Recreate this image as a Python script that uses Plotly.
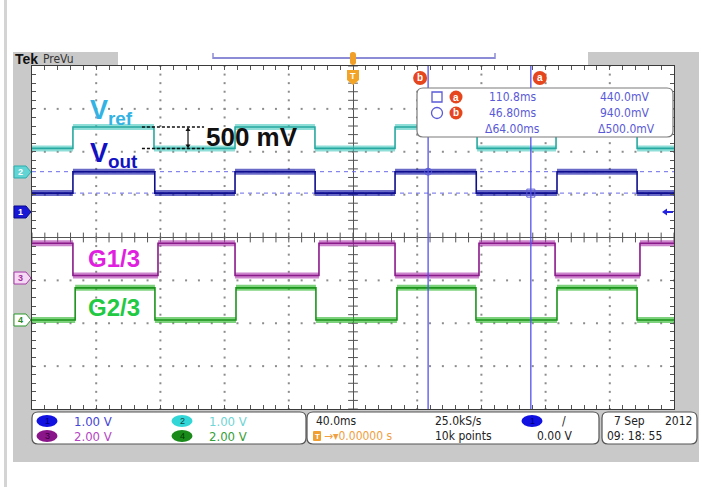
import numpy as np
import plotly.graph_objects as go

# ---------------- data ----------------
ms_per_div = 40.0
time_window_ms = [-200.0, 200.0]
screen_divs = [-4.0, 4.0]

ch_numbers = [1, 2, 3, 4]
ch_volts_per_div = [1.00, 1.00, 2.00, 2.00]
ch_ground_div = [0.595, 1.528, -0.945, -1.924]      # channel ground markers (divisions)
ch_scale_text = ["1.00 V", "1.00 V", "2.00 V", "2.00 V"]

# ch1 : Vout
vout_edges_ms = [-174.5, -123.5, -73.5, -23.6, 26.2, 76.8, 127.1, 177.0]
vout_levels_v = [0.44, 0.94]          # [low, high]
vout_starts_high = 0
# ch2 : Vref
vref_edges_ms = [-174.5, -124.0, -73.5, -23.7, 26.2, 77.3, 126.5, 177.0]
vref_levels_v = [0.55, 1.05]
vref_starts_high = 0
# ch3 : G1/3
g1_edges_ms = [-174.5, -121.5, -73.5, -21.2, 26.2, 78.5, 125.9, 178.8]
g1_levels_v = [0.12, 1.62]
g1_starts_high = 1
# ch4 : G2/3
g2_edges_ms = [-173.1, -123.4, -72.9, -23.1, 27.4, 76.6, 127.1, 177.0]
g2_levels_v = [0.00, 1.50]
g2_starts_high = 0

cursor_ids = ["a", "b"]
cursor_time_ms = [110.8, 46.80]
cursor_level_mv = [440.0, 940.0]

horizontal_scale_text = "40.0ms"
trigger_pos_text = "\u2192\u25BE0.00000 s"
sample_rate_text = "25.0kS/s"
record_length_text = "10k points"
trigger_level_text = "0.00 V"
date_text = "7 Sep"
year_text = "2012"
time_text = "09: 18: 55"
delta_label = "500 mV"

# ---------------- geometry helpers ----------------
W, H = 702, 487
PL, PR, PT, PB = 32, 674, 66, 409
FONT_N = "Liberation Sans Narrow, DejaVu Sans Condensed, Arial Narrow, Liberation Sans, sans-serif"
FONT_B = "Liberation Sans, Arial, sans-serif"


def PX(x):
    return (x - PL) / (PR - PL)


def PY(y):
    return (PB - y) / (PB - PT)


def XP(t):  # data time -> pixel
    return PL + (t - time_window_ms[0]) / (time_window_ms[1] - time_window_ms[0]) * (PR - PL)


def YP(d):  # divisions -> pixel
    return PB - (d - screen_divs[0]) / (screen_divs[1] - screen_divs[0]) * (PB - PT)


def to_div(v, ch):
    return ch_ground_div[ch] + v / ch_volts_per_div[ch]


def poly(points):
    return "M " + " L ".join(f"{PX(x):.5f},{PY(y):.5f}" for x, y in points) + " Z"


def rrect(x0, y0, x1, y1, r):
    return " ".join([
        f"M {PX(x0 + r):.5f},{PY(y0):.5f}", f"L {PX(x1 - r):.5f},{PY(y0):.5f}",
        f"Q {PX(x1):.5f},{PY(y0):.5f} {PX(x1):.5f},{PY(y0 + r):.5f}",
        f"L {PX(x1):.5f},{PY(y1 - r):.5f}",
        f"Q {PX(x1):.5f},{PY(y1):.5f} {PX(x1 - r):.5f},{PY(y1):.5f}",
        f"L {PX(x0 + r):.5f},{PY(y1):.5f}",
        f"Q {PX(x0):.5f},{PY(y1):.5f} {PX(x0):.5f},{PY(y1 - r):.5f}",
        f"L {PX(x0):.5f},{PY(y0 + r):.5f}",
        f"Q {PX(x0):.5f},{PY(y0):.5f} {PX(x0 + r):.5f},{PY(y0):.5f}", "Z"])


def step_xy(edges, levels, start_high, ch):
    bounds = [time_window_ms[0]] + list(edges) + [time_window_ms[1]]
    states = [(start_high + i) % 2 for i in range(len(bounds) - 1)]
    ys = [to_div(levels[s], ch) for s in states]
    bx, by = [], []
    for i in range(len(bounds) - 1):
        bx += [bounds[i], bounds[i + 1], None]
        by += [ys[i], ys[i], None]
    return bounds, ys + [ys[-1]], bx, by


fig = go.Figure()

# ---------------- graticule ----------------
gx, gy = [], []
for xv in np.arange(-160, 161, ms_per_div):
    if abs(xv) < 1e-9:
        continue
    for yv in np.arange(-4, 4.001, 0.2):
        gx.append(xv); gy.append(yv)
for yv in range(-3, 4):
    if yv == 0:
        continue
    for xv in np.arange(-200, 200.1, ms_per_div / 5):
        gx.append(xv); gy.append(yv)
fig.add_trace(go.Scatter(x=gx, y=gy, mode="markers", hoverinfo="skip",
                         marker=dict(symbol="square", size=2, color="#8c8c8c", line=dict(width=0))))
tx = list(np.arange(-200, 200.1, ms_per_div / 5))
fig.add_trace(go.Scatter(x=tx, y=[0] * len(tx), mode="markers", hoverinfo="skip",
                         marker=dict(symbol="line-ns", size=7, line=dict(width=1, color="#555"))))
ty = list(np.arange(-4, 4.001, 0.2))
fig.add_trace(go.Scatter(x=[0] * len(ty), y=ty, mode="markers", hoverinfo="skip",
                         marker=dict(symbol="line-ew", size=7, line=dict(width=1, color="#555"))))

# horizontal cursor levels (ch1)
for mv in cursor_level_mv:
    yl = to_div(mv / 1000.0, 0)
    fig.add_trace(go.Scatter(x=time_window_ms, y=[yl, yl], mode="lines", hoverinfo="skip",
                             line=dict(color="#6b6be6", width=1, dash="4px,4px")))

# ---------------- waveforms ----------------
waves = [
    (vref_edges_ms, vref_levels_v, vref_starts_high, 1, "#27a9a1", "rgba(70,200,190,0.6)"),
    (vout_edges_ms, vout_levels_v, vout_starts_high, 0, "#0e0e8e", "rgba(25,25,170,0.65)"),
    (g1_edges_ms, g1_levels_v, g1_starts_high, 2, "#8a1a8a", "rgba(170,50,170,0.6)"),
    (g2_edges_ms, g2_levels_v, g2_starts_high, 3, "#1b951b", "rgba(40,180,40,0.6)"),
]
for edges, lv, sh, ch, col, band in waves:
    sx, sy, bx, by = step_xy(edges, lv, sh, ch)
    fig.add_trace(go.Scatter(x=bx, y=by, mode="lines", hoverinfo="skip", connectgaps=False,
                             line=dict(color=band, width=6)))
    fig.add_trace(go.Scatter(x=sx, y=sy, mode="lines", line_shape="hv", hoverinfo="skip",
                             line=dict(color=col, width=1.6)))

# vertical time cursors
for t in cursor_time_ms:
    fig.add_trace(go.Scatter(x=[t, t], y=screen_divs, mode="lines", hoverinfo="skip",
                             line=dict(color="#5252ec", width=1.3)))
# cursor markers on the waveform
fig.add_trace(go.Scatter(x=[cursor_time_ms[0]], y=[to_div(cursor_level_mv[0] / 1000, 0)], mode="markers",
                         hoverinfo="skip", marker=dict(symbol="square-open", size=8, color="#5a5ad8")))
fig.add_trace(go.Scatter(x=[cursor_time_ms[1]], y=[to_div(cursor_level_mv[1] / 1000, 0)], mode="markers",
                         hoverinfo="skip", marker=dict(symbol="circle-open", size=7, color="#5a5ad8")))

# 500 mV dimension lines
vr_lo, vr_hi = to_div(vref_levels_v[0], 1), to_div(vref_levels_v[1], 1)
for yl in (vr_lo, vr_hi):
    fig.add_trace(go.Scatter(x=[-131.5, -92.8], y=[yl, yl], mode="lines", hoverinfo="skip",
                             line=dict(color="#111", width=1.5, dash="3px,2px")))

ann = []

# ---------------- chrome shapes ----------------
shapes = []


def rect(x0, y0, x1, y1, fill, line=None, lw=0, layer="below"):
    shapes.append(dict(type="rect", xref="paper", yref="paper", x0=PX(x0), x1=PX(x1), y0=PY(y1), y1=PY(y0),
                       fillcolor=fill, line=dict(color=line or fill, width=lw), layer=layer))


def path(p, fill, line=None, lw=0, layer="below"):
    shapes.append(dict(type="path", xref="paper", yref="paper", path=p, fillcolor=fill,
                       line=dict(color=line or fill, width=lw), layer=layer))


def ell(cx, cy, rx, ry, fill, line=None, lw=0, layer="below"):
    shapes.append(dict(type="circle", xref="paper", yref="paper", x0=PX(cx - rx), x1=PX(cx + rx),
                       y0=PY(cy + ry), y1=PY(cy - ry), fillcolor=fill,
                       line=dict(color=line or fill, width=lw), layer=layer))


def seg(x0, y0, x1, y1, color, w, layer="below"):
    shapes.append(dict(type="line", xref="paper", yref="paper", x0=PX(x0), x1=PX(x1), y0=PY(y0), y1=PY(y1),
                       line=dict(color=color, width=w), layer=layer))


def txt(x, y, s, color="#222", size=12, family=FONT_N, xanchor="left", bold=False):
    ann.append(dict(x=PX(x), y=PY(y), xref="paper", yref="paper", text=f"<b>{s}</b>" if bold else s,
                    showarrow=False, xanchor=xanchor, yanchor="middle",
                    font=dict(color=color, size=size, family=family)))


rect(4, 0, 7, H, "#d4d4d4")
rect(13, 52, 699, 462, "#c9c9c9")
rect(118, 52, 588, 66, "#ffffff")
rect(PL, PT, PR, PB, "#ffffff")

# double arrow of the 500 mV dimension
ax_px = XP(-102.8)
y_top, y_bot = YP(vr_hi), YP(vr_lo)
seg(ax_px, y_top + 2, ax_px, y_bot - 2, "#111", 1.2, layer="above")
path(poly([(ax_px, y_top), (ax_px - 2.5, y_top + 4), (ax_px + 2.5, y_top + 4)]), "#111", layer="above")
path(poly([(ax_px, y_bot), (ax_px - 2.5, y_bot - 4), (ax_px + 2.5, y_bot - 4)]), "#111", layer="above")

# record view bar
seg(213, 58, 495, 58, "#8c8cd6", 2)
seg(213, 53, 213, 59, "#8c8cd6", 1.5)
seg(495, 53, 495, 59, "#8c8cd6", 1.5)
path(rrect(350, 52, 356, 65, 2.5), "#f0a028", layer="above")
# trigger position marker
tp = XP(0)
path(poly([(tp - 6, 70), (tp + 6, 70), (tp + 6, 80), (tp, 85), (tp - 6, 80)]), "#f2a427", layer="above")
txt(tp, 76, "T", color="white", size=9, family=FONT_B, xanchor="center", bold=True)

# left channel markers
marker_style = [("#1717d4", "#0a0a90", "white"), ("#62d4d4", "#2aaeae", "white"),
                ("#f4d8f4", "#a83aa8", "#a030a0"), ("#ffffff", "#2a9a2a", "#2a8a2a")]
for i, n in enumerate(ch_numbers):
    yc = YP(ch_ground_div[i])
    fill, ln, tc = marker_style[i]
    path(poly([(14, yc - 6), (26, yc - 6), (31, yc), (26, yc + 6), (14, yc + 6)]), fill, ln, 1)
    txt(20.5, yc, str(n), color=tc, size=9, family=FONT_B, xanchor="center", bold=True)
# ch1 offset arrow at the right edge
yc1 = YP(ch_ground_div[0])
seg(666, yc1, 673, yc1, "#2323e0", 2, layer="above")
path(poly([(662, yc1), (667, yc1 - 3.5), (667, yc1 + 3.5)]), "#2323e0", layer="above")

# status boxes
path(rrect(32, 412, 306, 444, 6), "#ffffff", "#555555", 1.2)
path(rrect(307, 412, 599, 444, 6), "#ffffff", "#555555", 1.2)
path(rrect(602, 412, 697, 444, 6), "#ffffff", "#555555", 1.2)

pill = [("#1111e2", "#00007a", 47, 421), ("#33d6d6", "#114444", 182, 421),
        ("#8a158a", "#3a003a", 47, 436), ("#1a8a1a", "#003a00", 182, 436)]
scale_col = ["#4545d6", "#6fd5d5", "#b446c4", "#36a036"]
for i in range(4):
    fc, tc, cx, cy = pill[i]
    ell(cx, cy, 10.5, 6, fc)
    txt(cx, cy, str(ch_numbers[i]), color=tc, size=9, family=FONT_B, xanchor="center")
    txt(cx + 25, cy, ch_scale_text[i], color=scale_col[i], size=13)

txt(314, 421, horizontal_scale_text, size=12)
path(rrect(313, 431, 321, 441, 1), "#f0a030")
txt(317, 436, "T", color="white", size=8, family=FONT_B, xanchor="center", bold=True)
txt(322, 436, trigger_pos_text, color="#f0a040", size=12)
txt(433, 421, sample_rate_text, size=12)
txt(433, 436, record_length_text, size=12)
ell(532, 421, 10.5, 6, "#1111e2")
txt(532, 421, "1", color="#00007a", size=9, family=FONT_B, xanchor="center")
txt(560, 421, "/", size=12)
txt(574, 436, trigger_level_text, size=12, xanchor="right")
txt(612, 421, date_text, size=12)
txt(694, 421, year_text, size=12, xanchor="right")
txt(605, 436, time_text, size=12)

# header
txt(13, 59, "Tek", color="#111", size=14, family=FONT_B, bold=True)
txt(41, 59, "PreVu", color="#333", size=12, family=FONT_N)

# cursor readout box
path(rrect(417, 88, 673, 137, 6), "#ffffff", "#7a7a7a", 1.2, layer="above")
rc = "#5a5ad8"
shapes.append(dict(type="rect", xref="paper", yref="paper", x0=PX(432), x1=PX(442), y0=PY(102), y1=PY(92),
                   line=dict(color=rc, width=1.3), fillcolor="rgba(0,0,0,0)", layer="above"))
ell(437, 113, 5.5, 5.5, "rgba(0,0,0,0)", rc, 1.3, layer="above")
for lab, yy in zip(cursor_ids, (97, 113)):
    ell(456, yy, 6.5, 6.5, "#e6461e", layer="above")
    txt(456, yy, lab, color="white", size=10, family=FONT_B, xanchor="center", bold=True)
for i, yy in enumerate((97, 113)):
    txt(512, yy, f"{cursor_time_ms[i]:.4g}ms" if i == 0 else f"{cursor_time_ms[i]:.2f}ms",
        color=rc, size=12, xanchor="center")
    txt(624, yy, f"{cursor_level_mv[i]:.1f}mV", color=rc, size=12, xanchor="center")
txt(512, 129, f"\u0394{cursor_time_ms[0] - cursor_time_ms[1]:.2f}ms", color=rc, size=12, xanchor="center")
txt(626, 129, f"\u0394{cursor_level_mv[1] - cursor_level_mv[0]:.1f}mV", color=rc, size=12, xanchor="center")

# cursor id bubbles above the screen
for lab, t, off in zip(cursor_ids, cursor_time_ms, (9, -8)):
    ell(XP(t) + off, 78, 7, 7, "#e6461e", layer="above")
    txt(XP(t) + off, 78, lab, color="white", size=10, family=FONT_B, xanchor="center", bold=True)

# waveform labels
txt(88, 112, "V<sub>ref</sub>", color="#33b3e3", size=27, family=FONT_B, bold=True)
txt(88, 155, "V<sub>out</sub>", color="#1212c2", size=27, family=FONT_B, bold=True)
txt(204, 137, delta_label, color="#111", size=26, family=FONT_B, bold=True)
txt(86, 258, "G1/3", color="#e01fe0", size=24, family=FONT_B, bold=True)
txt(86, 307, "G2/3", color="#22c943", size=24, family=FONT_B, bold=True)

fig.update_layout(
    width=W, height=H, autosize=False,
    margin=dict(l=PL, r=W - PR, t=PT, b=H - PB, pad=0),
    paper_bgcolor="white", plot_bgcolor="white", showlegend=False, hovermode=False,
    shapes=shapes, annotations=ann,
    xaxis=dict(range=time_window_ms, showgrid=False, zeroline=True, zerolinecolor="#555",
               zerolinewidth=1, showline=True, linecolor="#3a3a3a", linewidth=1, mirror="ticks",
               ticks="inside", ticklen=4, tickcolor="#555", tick0=-200, dtick=ms_per_div / 5,
               showticklabels=False, fixedrange=True),
    yaxis=dict(range=screen_divs, showgrid=False, zeroline=True, zerolinecolor="#555",
               zerolinewidth=1, showline=True, linecolor="#3a3a3a", linewidth=1, mirror="ticks",
               ticks="inside", ticklen=4, tickcolor="#555", tick0=-4, dtick=0.2,
               showticklabels=False, fixedrange=True),
)

fig.write_html("out.html", config={"displayModeBar": False},
               post_script="document.body.style.margin='0px';document.body.style.overflow='hidden';")
